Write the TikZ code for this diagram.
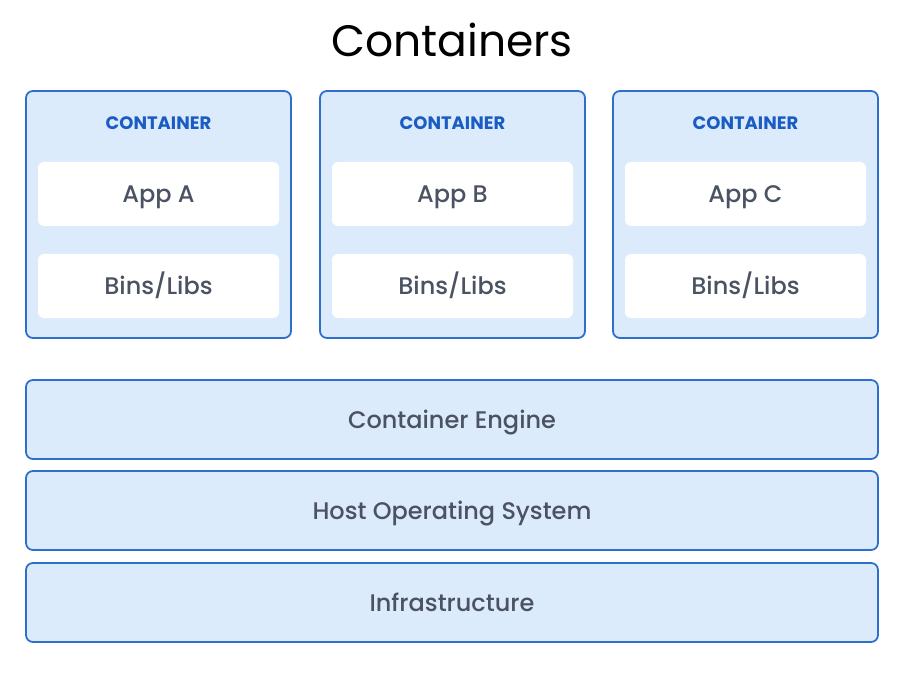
\documentclass[tikz,border=0pt]{standalone}
\usepackage{fontspec}
\setmainfont{Poppins}
\newfontfamily\medfont{Poppins Medium}
\usepackage{xcolor}
\usetikzlibrary{positioning}

\definecolor{layerfill}{HTML}{DCEBFC}
\definecolor{layerline}{HTML}{2F6FCC}
\definecolor{headblue}{HTML}{1A5BC4}
\definecolor{labelgray}{HTML}{4B5262}

\tikzset{
    container/.style={draw=layerline, line width=1.8pt, fill=layerfill, rounded corners=7pt,
        minimum width=265pt, minimum height=247pt},
    slot/.style={fill=white, rounded corners=6pt, minimum width=241pt, minimum height=64pt,
        text=labelgray, font=\medfont\fontsize{24}{28}\selectfont, text height=17pt, text depth=0pt},
    layer/.style={draw=layerline, line width=1.8pt, fill=layerfill, rounded corners=7pt,
        minimum width=852pt, minimum height=79pt, text=labelgray,
        font=\medfont\fontsize{24}{28}\selectfont, text height=17pt, text depth=0pt},
    header/.style={text=headblue, font=\bfseries\fontsize{18}{21}\selectfont,
        text height=13pt, text depth=0pt}
}

\begin{document}
\begin{tikzpicture}[x=1pt, y=-1pt]
    \useasboundingbox (0,0) rectangle (906,674);
    \node (title) at (452,40) {\fontsize{44}{50}\selectfont Containers};

    % three containers
    \node[container] (boxA) at (158.5,214.5) {};
    \node[container] (boxB) at (452.5,214.5) {};
    \node[container] (boxC) at (745.5,214.5) {};

    \node[header] (headA) at (158.5,123) {CONTAINER};
    \node[header] (headB) at (452.5,123) {CONTAINER};
    \node[header] (headC) at (745.5,123) {CONTAINER};

    \node[slot] (appA) at (158.5,194) {App A};
    \node[slot] (appB) at (452.5,194) {App B};
    \node[slot] (appC) at (745.5,194) {App C};
    \node[slot] (libsA) at (158.5,286) {Bins/Libs};
    \node[slot] (libsB) at (452.5,286) {Bins/Libs};
    \node[slot] (libsC) at (745.5,286) {Bins/Libs};

    % shared layers
    \node[layer] (engine) at (452,419.5) {Container Engine};
    \node[layer] (hostos) at (452,510.5) {Host Operating System};
    \node[layer] (infra) at (452,602.5) {Infrastructure};
\end{tikzpicture}
\end{document}
